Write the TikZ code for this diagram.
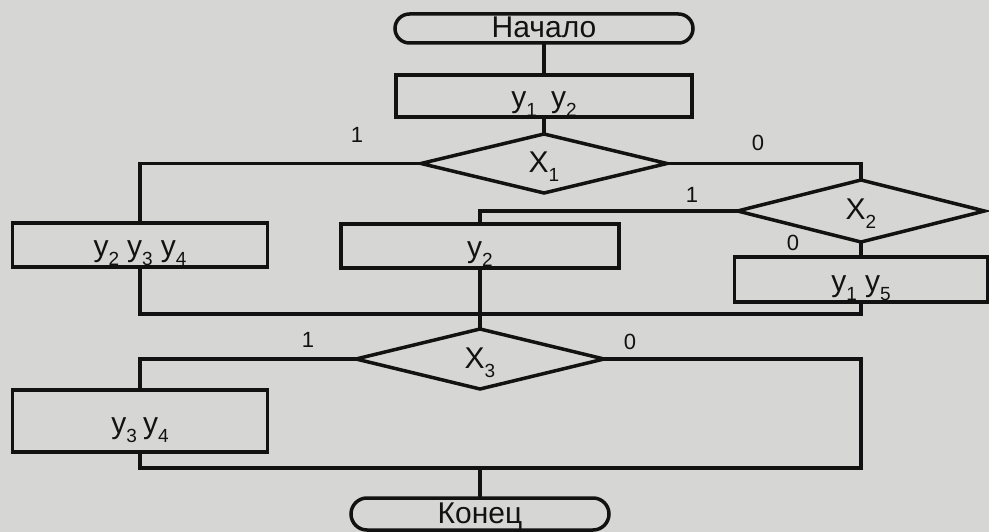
\documentclass[tikz,border=0pt]{standalone}
\usepackage{fontspec}
\setmainfont{Liberation Sans}
\usetikzlibrary{shapes.geometric}
\definecolor{paper}{RGB}{214,214,212}
\definecolor{ink}{RGB}{18,18,18}
% lowered index for y_i and X_i
\newcommand\lowidx[1]{\raisebox{-9pt}{\fontsize{19}{19}\selectfont #1}}
\newcommand\yv[1]{y\lowidx{#1}}
\newcommand\xv[1]{X\lowidx{#1}}
\begin{document}
\begin{tikzpicture}[x=1pt,y=-1pt,
  every node/.style={font=\fontsize{30}{30}\selectfont, text=ink},
  flow/.style={draw=ink, line width=3.5pt},
  opbox/.style={flow, rectangle, inner sep=0pt, outer sep=0pt, text height=24pt, text depth=0pt},
  termbox/.style={flow, rectangle, inner sep=0pt, outer sep=0pt, text height=22pt, text depth=4pt},
  cond/.style={flow, diamond, inner sep=0pt, outer sep=0pt, text height=22pt, text depth=4pt},
  wire/.style={draw=ink, line width=3.5pt},
  branch/.style={font=\fontsize{22}{22}\selectfont}
]
\path[fill=paper] (0,0) rectangle (989,532);
\useasboundingbox (0,0) rectangle (989,532);

% terminals
\node[termbox, minimum width=298pt, minimum height=29pt, rounded corners=14.5pt] (start) at (544,28.5) {Начало};
\node[termbox, minimum width=258pt, minimum height=32pt, rounded corners=16pt] (end) at (480,514) {Конец};

% operator boxes
\node[opbox, minimum width=296pt, minimum height=42pt] (r12) at (544,96) {\yv{1}\hspace{14pt}\yv{2}};
\node[opbox, minimum width=255pt, minimum height=44pt] (r234) at (140,245) {\yv{2}\hspace{8pt}\yv{3}\hspace{8pt}\yv{4}};
\node[opbox, minimum width=278pt, minimum height=44pt] (r2) at (480,246) {\yv{2}};
\node[opbox, minimum width=253pt, minimum height=45pt] (r15) at (861,279.5) {\yv{1}\hspace{8pt}\yv{5}};
\node[opbox, minimum width=255pt, minimum height=62pt] (r34) at (140,421) {\yv{3}\hspace{6pt}\yv{4}};

% conditions
\node[cond, minimum width=246pt, minimum height=59pt] (X1) at (544,163.5) {\xv{1}};
\node[cond, minimum width=247pt, minimum height=62pt] (X2) at (861,211) {\xv{2}};
\node[cond, minimum width=248pt, minimum height=60pt] (X3) at (480,359) {\xv{3}};

% junction points
\coordinate (m1) at (480,314);
\coordinate (c3) at (861,468);
\coordinate (m2) at (480,468);

% connectors
\draw[wire] (start.south) -- (r12.north);
\draw[wire] (r12.south) -- (X1.north);
\draw[wire] (X1.west) -| (r234.north);
\draw[wire] (X1.east) -| (X2.north);
\draw[wire] (X2.west) -| (r2.north);
\draw[wire] (X2.south) -- (r15.north);
\draw[wire] (r15.south) |- (m1) -| (r234.south);
\draw[wire] (r2.south) -- (X3.north);
\draw[wire] (X3.west) -| (r34.north);
\draw[wire] (X3.east) -| (c3) -| (r34.south);
\draw[wire] (m2) -- (end.north);

% branch values
\node[branch] (b1t) at (357,135) {1};
\node[branch] (b1f) at (758,143) {0};
\node[branch] (b2t) at (692,195) {1};
\node[branch] (b2f) at (793,243) {0};
\node[branch] (b3t) at (308,340) {1};
\node[branch] (b3f) at (630,342) {0};
\end{tikzpicture}
\end{document}
